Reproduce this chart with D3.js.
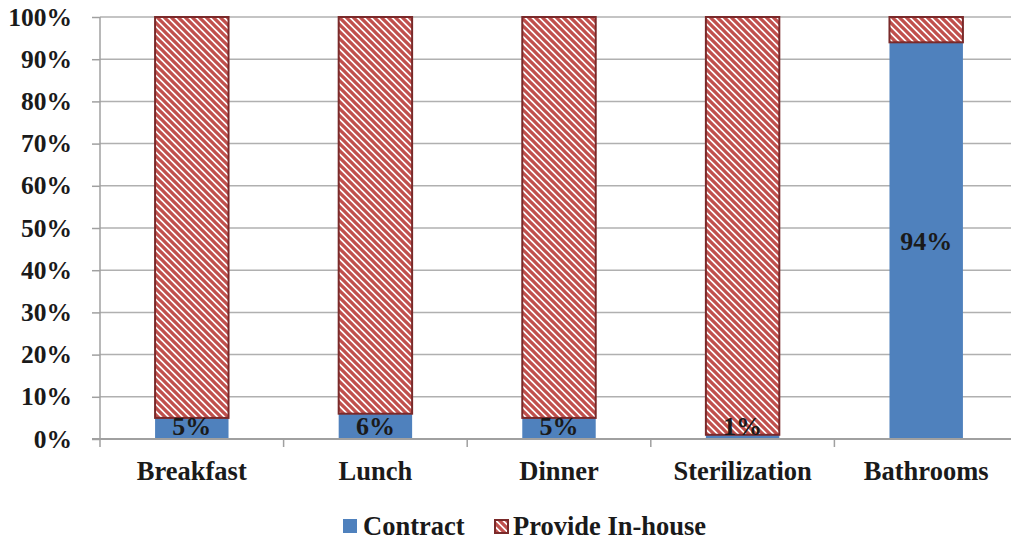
<!DOCTYPE html>
<html><head><meta charset="utf-8">
<script src="https://cdn.jsdelivr.net/npm/d3@7"></script>
<style>body{margin:0;background:#fff}svg{display:block}</style>
</head><body>
<script>
const categories = ["Breakfast","Lunch","Dinner","Sterilization","Bathrooms"];
const contract = [5, 6, 5, 1, 94];
const inHouse = [95, 94, 95, 99, 6];
const seriesNames = ["Contract","Provide In-house"];
const yTicks = [0,10,20,30,40,50,60,70,80,90,100];

const W = 1011, H = 540;
const svg = d3.select("body").append("svg").attr("width", W).attr("height", H);
const font = "Liberation Serif, Times New Roman, serif";
const txt = "#1a1a1a";
const defs = svg.append("defs");
const pat = defs.append("pattern").attr("id","hatch").attr("patternUnits","userSpaceOnUse")
  .attr("width",7).attr("height",7);
pat.append("rect").attr("width",7).attr("height",7).attr("fill","#fff");
pat.append("path").attr("d","M-2,-2 L9,9 M-2,5 L2,9 M5,-2 L9,2")
  .attr("stroke","#C0504D").attr("stroke-width",3.3).attr("fill","none");

const x = d3.scaleBand().domain(categories).range([100, 1018]).paddingInner(0.6).paddingOuter(0.3);
const xb = d3.scaleBand().domain(categories).range([100, 1018]);
const y = d3.scaleLinear().domain([0,100]).range([439, 17]);

// gridlines
svg.append("g").selectAll("line").data(yTicks.filter(d=>d>0)).join("line")
  .attr("x1",100).attr("x2",W).attr("y1",d=>y(d)).attr("y2",d=>y(d))
  .attr("stroke","#b0b0b0").attr("stroke-width",1.5);

// y axis
const ya = svg.append("g").attr("transform","translate(100,0)")
  .call(d3.axisLeft(y).tickValues(yTicks).tickFormat(d=>d+"%").tickSize(8).tickPadding(20));
ya.attr("font-family",null).attr("font-size",null);
ya.select(".domain").attr("stroke","#a0a0a0").attr("stroke-width",1.5).attr("d","M0,"+y(100)+"V"+y(0));
ya.selectAll(".tick line").attr("stroke","#a0a0a0").attr("stroke-width",1.5);
ya.selectAll("text").attr("font-family",font).attr("font-weight","bold").attr("font-size",25.5).attr("fill",txt);

// bars
const g = svg.append("g");
categories.forEach((c,i)=>{
  g.append("rect").attr("x",x(c)).attr("width",x.bandwidth())
    .attr("y",y(contract[i])).attr("height",y(0)-y(contract[i])).attr("fill","#4F81BD");
  g.append("rect").attr("x",x(c)).attr("width",x.bandwidth())
    .attr("y",y(contract[i]+inHouse[i])).attr("height",y(contract[i])-y(contract[i]+inHouse[i]))
    .attr("fill","url(#hatch)").attr("stroke","#7a2a2a").attr("stroke-width",2);
});

// x axis
const xa = svg.append("g").attr("transform","translate(0,"+y(0)+")");
xa.append("line").attr("x1",92).attr("x2",W).attr("stroke","#a0a0a0").attr("stroke-width",2);
xa.selectAll(".xt").data(categories).join("line").attr("class","xt")
  .attr("x1",d=>xb(d)).attr("x2",d=>xb(d)).attr("y1",0).attr("y2",8)
  .attr("stroke","#a0a0a0").attr("stroke-width",1.5);
xa.selectAll("text").data(categories).join("text")
  .attr("x",d=>xb(d)+xb.bandwidth()/2).attr("y",41).attr("text-anchor","middle")
  .attr("font-family",font).attr("font-weight","bold").attr("font-size",26.5).attr("fill",txt)
  .text(d=>d);

// data labels
g.selectAll(".lbl").data(categories).join("text").attr("class","lbl")
  .attr("x",d=>x(d)+x.bandwidth()/2)
  .attr("y",(d,i)=>Math.min((y(0)+y(contract[i]))/2, y(0)-13))
  .attr("dy","0.35em").attr("text-anchor","middle")
  .attr("font-family",font).attr("font-weight","bold").attr("font-size",26).attr("fill",txt)
  .text((d,i)=>contract[i]+"%");

// legend
const lg = svg.append("g");
lg.append("rect").attr("x",343).attr("y",519).attr("width",14).attr("height",14).attr("fill","#4F81BD");
lg.append("text").attr("x",363).attr("y",535).attr("font-family",font).attr("font-weight","bold")
  .attr("font-size",26.5).attr("fill",txt).text(seriesNames[0]);
lg.append("rect").attr("x",495).attr("y",520).attr("width",13).attr("height",13)
  .attr("fill","url(#hatch)").attr("stroke","#7a2a2a").attr("stroke-width",2);
lg.append("text").attr("x",513).attr("y",535).attr("font-family",font).attr("font-weight","bold")
  .attr("font-size",26.5).attr("fill",txt).text(seriesNames[1]);
</script>
</body></html>
